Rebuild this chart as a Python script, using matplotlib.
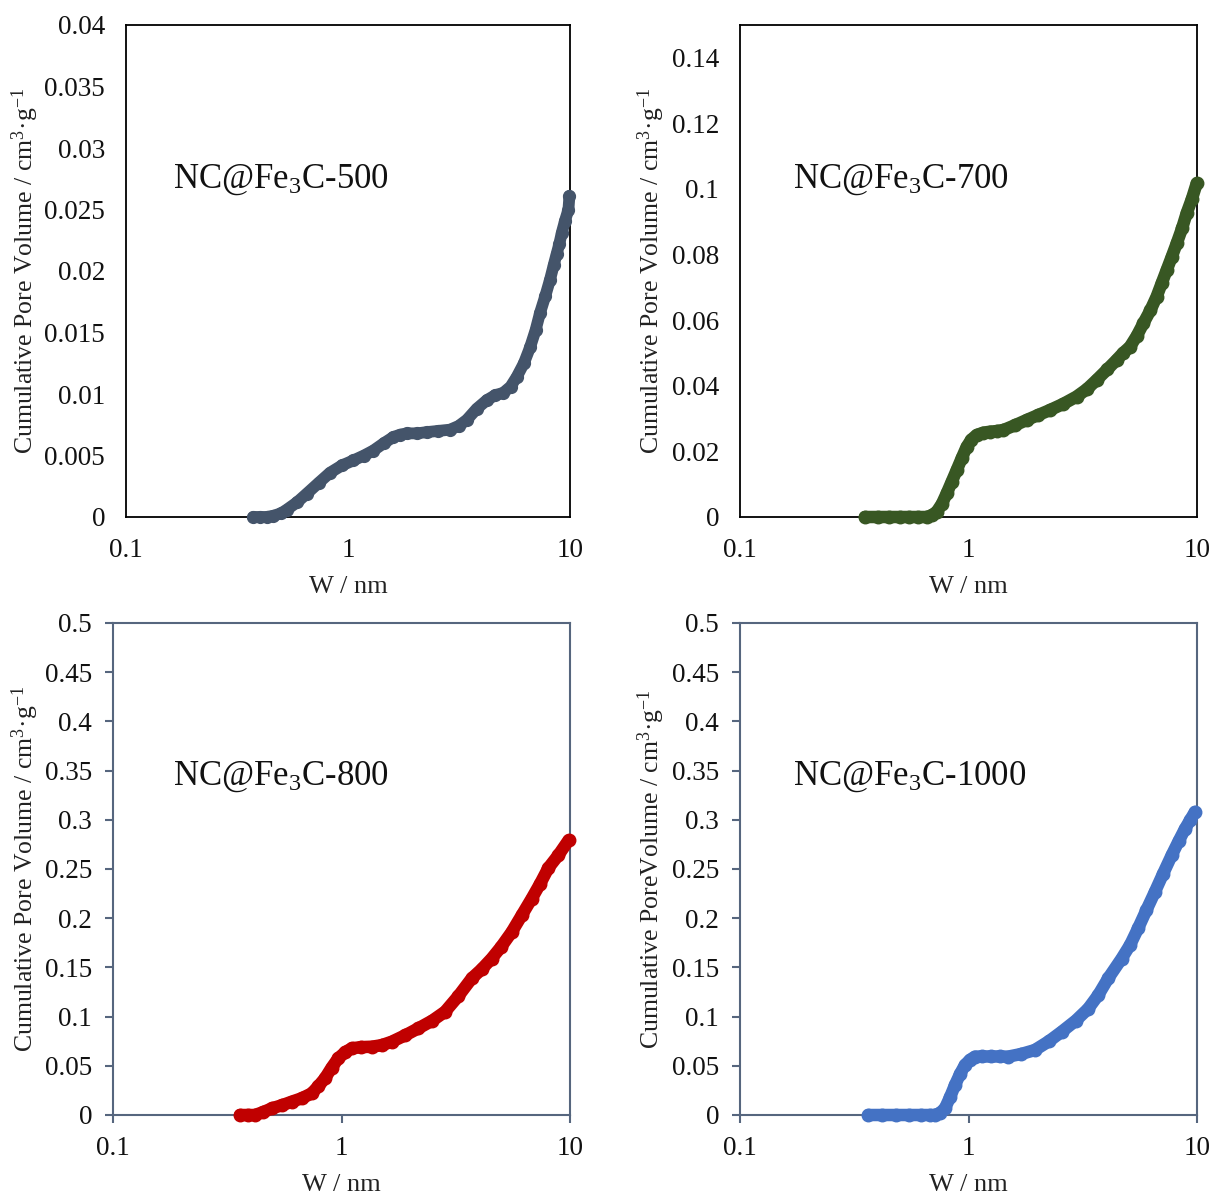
import numpy as np
import matplotlib
matplotlib.use("Agg")
import matplotlib.pyplot as plt

plt.rcParams['font.family'] = ['Liberation Serif', 'DejaVu Serif']
plt.rcParams['mathtext.fontset'] = 'custom'
plt.rcParams['mathtext.rm'] = 'Liberation Serif'
plt.rcParams['mathtext.it'] = 'Liberation Serif:italic'

# ---- data (pore width W in nm, cumulative volume cm3/g) ----
w_500 = [0.374, 0.40, 0.43, 0.461, 0.50, 0.53, 0.59, 0.652, 0.74, 0.83, 0.94, 1.057, 1.18,
         1.30, 1.45, 1.60, 1.72, 1.84, 2.05, 2.26, 2.55, 2.88, 3.15, 3.43, 3.80, 4.22, 4.60,
         5.01, 5.40, 5.76, 6.20, 6.61, 7.00, 7.33, 7.75, 8.13, 8.45, 8.71, 8.95, 9.18, 9.50,
         9.84, 9.94]
v_500 = [0.0, 0.0, 0.0, 0.0001, 0.0003, 0.0006, 0.0012, 0.0019, 0.0028, 0.0036, 0.0042, 0.0046,
         0.0050, 0.0054, 0.0060, 0.0065, 0.0067, 0.0068, 0.0068, 0.0069, 0.0070, 0.0071, 0.0074,
         0.0079, 0.0088, 0.0095, 0.0099, 0.0101, 0.0106, 0.0114, 0.0125, 0.0138, 0.0152, 0.0166,
         0.0180, 0.0193, 0.0205, 0.0214, 0.0222, 0.0231, 0.0241, 0.0250, 0.0261]

w_700 = [0.352, 0.40, 0.45, 0.50, 0.55, 0.60, 0.656, 0.69, 0.726, 0.765, 0.803, 0.845, 0.888,
         0.935, 0.982, 1.03, 1.086, 1.16, 1.24, 1.33, 1.42, 1.60, 1.80, 2.02, 2.27, 2.60, 2.97,
         3.30, 3.64, 4.05, 4.45, 4.75, 5.09, 5.45, 5.82, 6.25, 6.66, 7.00, 7.37, 7.75, 8.15,
         8.60, 9.01, 9.50, 9.97]
v_700 = [0.0, 0.0, 0.0, 0.0, 0.0, 0.0, 0.0, 0.0005, 0.0016, 0.0040, 0.0072, 0.0108, 0.0143,
         0.0180, 0.0214, 0.0236, 0.0250, 0.0257, 0.0260, 0.0262, 0.0265, 0.0280, 0.0296, 0.0311,
         0.0326, 0.0345, 0.0367, 0.0390, 0.0418, 0.0450, 0.0479, 0.0500, 0.0519, 0.0552, 0.0590,
         0.0630, 0.0672, 0.0712, 0.0753, 0.0793, 0.0834, 0.0880, 0.0926, 0.0970, 0.1017]

w_800 = [0.36, 0.39, 0.418, 0.455, 0.496, 0.55, 0.605, 0.67, 0.741, 0.79, 0.847, 0.905, 0.968,
         1.04, 1.11, 1.22, 1.36, 1.50, 1.66, 1.90, 2.17, 2.50, 2.84, 3.25, 3.72, 4.10, 4.54,
         5.00, 5.56, 6.15, 6.80, 7.40, 8.04, 8.89, 9.85]
v_800 = [0.0, 0.0, 0.0, 0.003, 0.0068, 0.010, 0.0135, 0.017, 0.022, 0.029, 0.0373, 0.048, 0.0576,
         0.064, 0.0678, 0.069, 0.0694, 0.071, 0.0745, 0.081, 0.0881, 0.096, 0.105, 0.121, 0.139,
         0.148, 0.159, 0.171, 0.186, 0.203, 0.220, 0.235, 0.251, 0.264, 0.279]

w_1000 = [0.365, 0.42, 0.48, 0.55, 0.62, 0.68, 0.713, 0.75, 0.789, 0.83, 0.873, 0.92, 0.965,
          1.015, 1.067, 1.15, 1.25, 1.37, 1.49, 1.70, 1.95, 2.25, 2.56, 2.95, 3.34, 3.70, 4.09,
          4.68, 5.10, 5.53, 6.00, 6.55, 7.10, 7.75, 8.30, 8.87, 9.35, 9.80]
v_1000 = [0.0, 0.0, 0.0, 0.0, 0.0, 0.0, 0.0, 0.002, 0.0068, 0.018, 0.0305, 0.042, 0.0508,
          0.056, 0.0593, 0.0595, 0.0595, 0.0595, 0.0593, 0.062, 0.066, 0.075, 0.0847, 0.096,
          0.108, 0.122, 0.139, 0.159, 0.173, 0.190, 0.208, 0.227, 0.245, 0.264, 0.278, 0.291,
          0.300, 0.308]

labels = ['NC@Fe$_3$C-500', 'NC@Fe$_3$C-700', 'NC@Fe$_3$C-800', 'NC@Fe$_3$C-1000']
colors = ['#44546A', '#385723', '#C00000', '#4472C4']

x_ticks = [0.1, 1, 10]
x_ticklabels = ['0.1', '1', '10']
y_ticks_500 = [0, 0.005, 0.01, 0.015, 0.02, 0.025, 0.03, 0.035, 0.04]
y_ticklabels_500 = ['0', '0.005', '0.01', '0.015', '0.02', '0.025', '0.03', '0.035', '0.04']
y_ticks_700 = [0, 0.02, 0.04, 0.06, 0.08, 0.1, 0.12, 0.14]
y_ticklabels_700 = ['0', '0.02', '0.04', '0.06', '0.08', '0.1', '0.12', '0.14']
y_ticks_big = [0, 0.05, 0.1, 0.15, 0.2, 0.25, 0.3, 0.35, 0.4, 0.45, 0.5]
y_ticklabels_big = ['0', '0.05', '0.1', '0.15', '0.2', '0.25', '0.3', '0.35', '0.4', '0.45', '0.5']

fig = plt.figure(figsize=(12.13, 11.96), dpi=100)
W, H = 1213.0, 1196.0


def make_ax(l, t, r, b):
    return fig.add_axes([l / W, 1 - b / H, (r - l) / W, (b - t) / H])


panels = [
    dict(box=(126, 25, 570, 517), w=w_500, v=v_500, ylim=0.04, yt=y_ticks_500,
         ytl=y_ticklabels_500, top=True, ylab_x=25, txt_x=173, txt_y=180,
         ylabel='Cumulative Pore Volume / cm$^3$·g$^{-1}$', ms=8.5),
    dict(box=(740, 25, 1197, 517), w=w_700, v=v_700, ylim=0.15, yt=y_ticks_700,
         ytl=y_ticklabels_700, top=True, ylab_x=651, txt_x=793, txt_y=180,
         ylabel='Cumulative Pore Volume / cm$^3$·g$^{-1}$', ms=9.0),
    dict(box=(113, 623, 570, 1115), w=w_800, v=v_800, ylim=0.5, yt=y_ticks_big,
         ytl=y_ticklabels_big, top=False, ylab_x=25, txt_x=173, txt_y=777,
         ylabel='Cumulative Pore Volume / cm$^3$·g$^{-1}$', ms=9.0),
    dict(box=(740, 623, 1197, 1115), w=w_1000, v=v_1000, ylim=0.5, yt=y_ticks_big,
         ytl=y_ticklabels_big, top=False, ylab_x=651, txt_x=793, txt_y=777,
         ylabel='Cumulative PoreVolume / cm$^3$·g$^{-1}$', ms=9.0),
]

for i, p in enumerate(panels):
    l, t, r, b = p['box']
    ax = make_ax(l, t, r, b)
    ax.plot(p['w'], p['v'], '-o', color=colors[i], ms=p['ms'], lw=p['ms'],
            mec=colors[i], solid_capstyle='round', solid_joinstyle='round', clip_on=False,
            zorder=3)
    ax.set_xscale('log')
    ax.set_xlim(0.1, 10)
    ax.set_ylim(0, p['ylim'])
    ax.set_xticks(x_ticks)
    ax.set_xticklabels(x_ticklabels)
    ax.xaxis.set_minor_locator(matplotlib.ticker.NullLocator())
    ax.set_yticks(p['yt'])
    ax.set_yticklabels(p['ytl'])
    if p['top']:
        for s in ax.spines.values():
            s.set_color('black')
            s.set_linewidth(1.3)
        ax.tick_params(length=0, labelsize=19.5, labelcolor='#111111')
        ax.tick_params(axis='y', pad=15)
        ax.tick_params(axis='x', pad=15)
    else:
        for s in ax.spines.values():
            s.set_color('#56667E')
            s.set_linewidth(1.5)
        ax.tick_params(direction='out', length=6, width=1.5, color='#56667E',
                       labelsize=19.5, labelcolor='#111111')
        ax.tick_params(axis='y', pad=9)
        ax.tick_params(axis='x', pad=9)
    ax.set_ylabel(p['ylabel'], fontsize=18.5, color='#222222')
    ax.yaxis.set_label_coords((p['ylab_x'] - l) / (r - l), 0.5)
    ax.yaxis.label.set_va('center')
    ax.set_xlabel('W / nm', fontsize=19, color='#222222')
    ax.xaxis.set_label_coords(0.5, -(576 - 517) / 492.0)
    ax.text((p['txt_x'] - l) / (r - l), (b - p['txt_y']) / (b - t), labels[i],
            transform=ax.transAxes, fontsize=25, va='center', ha='left', color='#111111')

fig.savefig('out.png', dpi=100)
